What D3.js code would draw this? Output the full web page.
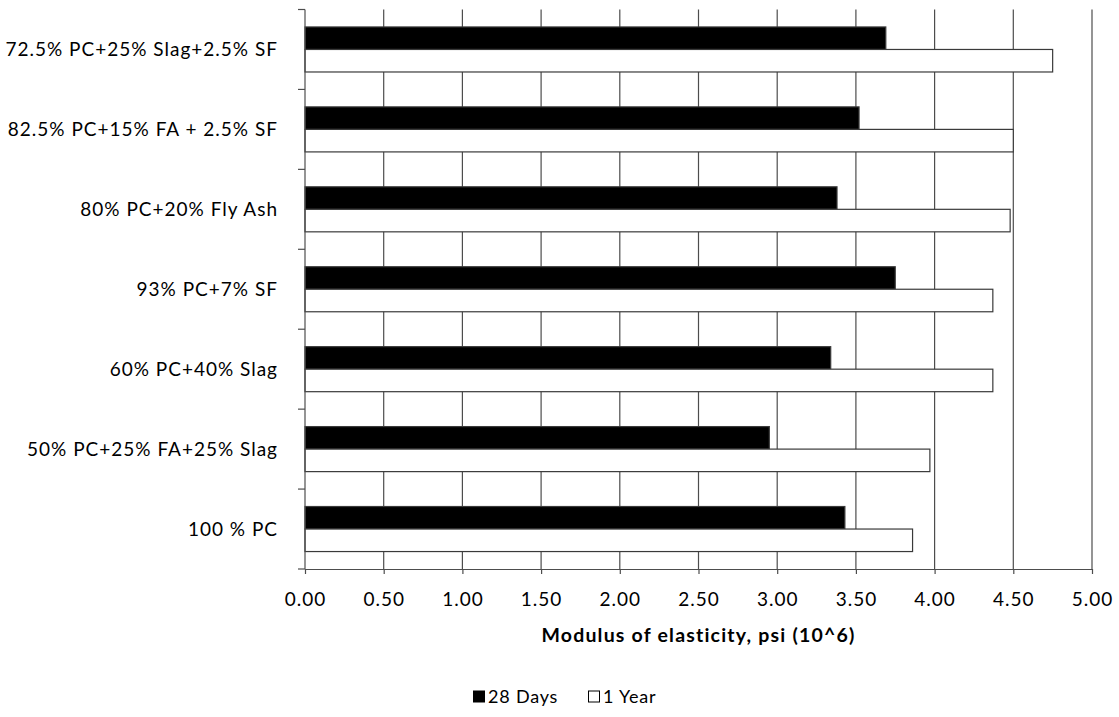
<!DOCTYPE html>
<html>
<head>
<meta charset="utf-8">
<script src="https://cdn.jsdelivr.net/npm/d3@7/dist/d3.min.js"></script>
<style>
  html, body { margin: 0; padding: 0; background: #fff; }
  svg text { font-family: Lato, "Open Sans", sans-serif; fill: #000; }
</style>
</head>
<body>
<svg id="chart" width="1119" height="717"></svg>
<script>
// Mix designs, listed top to bottom
const categories = [
  "72.5% PC+25% Slag+2.5% SF",
  "82.5% PC+15% FA + 2.5% SF",
  "80% PC+20% Fly Ash",
  "93% PC+7% SF",
  "60% PC+40% Slag",
  "50% PC+25% FA+25% Slag",
  "100 % PC"
];
const seriesNames = ["28 Days", "1 Year"];
// Modulus of elasticity, psi (10^6)
const days28 = [3.69, 3.52, 3.38, 3.75, 3.34, 2.95, 3.43];
const year1  = [4.75, 4.50, 4.48, 4.37, 4.37, 3.97, 3.86];
const xTicks = [0, 0.5, 1, 1.5, 2, 2.5, 3, 3.5, 4, 4.5, 5];

const seriesValues = [days28, year1];
const fills = ["#000000", "#ffffff"];

const svg = d3.select("#chart");
const margin = { left: 305, right: 27, top: 9.5, bottom: 148 };
const W = 1119, H = 717;
const x = d3.scaleLinear().domain([0, 5]).range([margin.left, W - margin.right]);
const y = d3.scaleBand().domain(categories).range([margin.top, H - margin.bottom]).padding(0);
const ySub = d3.scaleBand().domain(seriesNames).range([0, y.bandwidth()]).paddingInner(0).paddingOuter(0.775);

const y0 = y.range()[0], y1 = y.range()[1];

// vertical gridlines
svg.append("g")
  .selectAll("line")
  .data(xTicks.filter(t => t > 0))
  .join("line")
  .attr("x1", d => x(d)).attr("x2", d => x(d))
  .attr("y1", y0).attr("y2", y1)
  .attr("stroke", "#4d4d4d").attr("stroke-width", 1.2);

// bars
const rows = categories.map((c, i) => seriesNames.map((s, j) => ({ c, s, j, v: seriesValues[j][i] })));
svg.append("g")
  .selectAll("rect")
  .data(rows.flat())
  .join("rect")
  .attr("x", x(0))
  .attr("y", d => y(d.c) + ySub(d.s))
  .attr("width", d => x(d.v) - x(0))
  .attr("height", ySub.bandwidth())
  .attr("fill", d => fills[d.j])
  .attr("stroke", "#3a3a3a")
  .attr("stroke-width", 1.2);

// x axis
const xAxis = d3.axisBottom(x).tickValues(xTicks).tickFormat(d3.format(".2f")).tickSize(5).tickSizeOuter(0);
const gx = svg.append("g").attr("transform", `translate(0,${y1})`).call(xAxis);
gx.select(".domain").attr("stroke", "#4d4d4d").attr("stroke-width", 1.2);
gx.selectAll(".tick line").attr("stroke", "#4d4d4d").attr("stroke-width", 1.2);
gx.selectAll(".tick text")
  .attr("font-size", 19)
  .attr("dy", "1.55em")
  .attr("letter-spacing", "1px")
  .attr("font-family", "Lato");

// y axis with ticks on category boundaries
svg.append("line")
  .attr("x1", x(0)).attr("x2", x(0)).attr("y1", y0).attr("y2", y1)
  .attr("stroke", "#4d4d4d").attr("stroke-width", 1.2);
const bounds = categories.map(c => y(c)).concat([y1]);
svg.append("g")
  .selectAll("line")
  .data(bounds)
  .join("line")
  .attr("x1", x(0) - 7).attr("x2", x(0))
  .attr("y1", d => d).attr("y2", d => d)
  .attr("stroke", "#4d4d4d").attr("stroke-width", 1.2);
svg.append("g")
  .selectAll("text")
  .data(categories)
  .join("text")
  .attr("x", x(0) - 27)
  .attr("y", d => y(d) + y.bandwidth() / 2)
  .attr("dy", "0.35em")
  .attr("text-anchor", "end")
  .attr("font-size", 19)
  .attr("letter-spacing", "1px")
  .text(d => d);

// axis title
svg.append("text")
  .attr("x", (x(0) + x(5)) / 2)
  .attr("y", 642)
  .attr("text-anchor", "middle")
  .attr("font-size", 19.5)
  .attr("font-weight", "bold")
  .attr("letter-spacing", "1.2px")
  .text("Modulus of elasticity, psi (10^6)");

// legend
const legendX = [473, 588];
const lg = svg.append("g")
  .selectAll("g")
  .data(seriesNames)
  .join("g")
  .attr("transform", (d, i) => `translate(${legendX[i]},697)`);
lg.append("rect")
  .attr("x", 0.5).attr("y", -6)
  .attr("width", 11).attr("height", 11)
  .attr("fill", (d, i) => fills[i])
  .attr("stroke", "#000").attr("stroke-width", 1);
lg.append("text")
  .attr("x", 15).attr("y", 0)
  .attr("dy", "0.35em")
  .attr("font-size", 18)
  .attr("letter-spacing", "0.8px")
  .text(d => d);
</script>
</body>
</html>
